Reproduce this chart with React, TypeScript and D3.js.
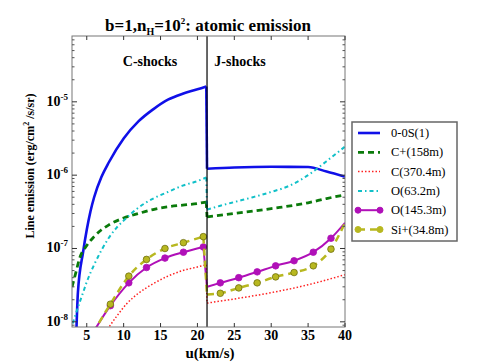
import React from 'react';
import * as d3 from 'd3';

// velocity (km/s) and line emission (erg/cm2/s/sr), C-shock and J-shock branches
const h2C = [[3.6, 7.9e-9], [3.8, 2.5e-8], [4.5, 8.9e-8], [5, 1.8e-7], [5.5, 3.2e-7], [6, 5.0e-7], [7, 9.5e-7], [8, 1.5e-6], [10, 3.16e-6], [12, 5.4e-6], [14, 7.9e-6], [16, 1.07e-5], [18, 1.29e-5], [20, 1.48e-5], [21.2, 1.62e-5]];
const h2J = [[21.3, 1.22e-6], [25, 1.27e-6], [30, 1.3e-6], [35, 1.29e-6], [37.5, 1.12e-6], [40, 9.5e-7]];

const cpC = [[3, 3.0e-8], [3.5, 4.6e-8], [4, 7.2e-8], [5, 1.1e-7], [6, 1.45e-7], [7, 1.8e-7], [8, 2.1e-7], [10, 2.6e-7], [12, 3.0e-7], [14, 3.4e-7], [16, 3.7e-7], [18, 3.9e-7], [20, 4.1e-7], [21.2, 4.3e-7]];
const cpJ = [[21.3, 2.7e-7], [25, 3.0e-7], [30, 3.5e-7], [35, 4.2e-7], [37.5, 4.8e-7], [40, 5.4e-7]];

const ciC = [[7.8, 7.9e-9], [9, 1.17e-8], [10.5, 1.8e-8], [12, 2.45e-8], [14, 3.3e-8], [16, 4.2e-8], [18, 5.0e-8], [20, 5.6e-8], [21.2, 6.0e-8]];
const ciJ = [[21.3, 1.8e-8], [25, 2.05e-8], [30, 2.5e-8], [35, 3.2e-8], [40, 4.4e-8]];

const o63C = [[3.1, 9.5e-9], [4, 1.8e-8], [4.5, 2.5e-8], [5, 3.5e-8], [6, 6.0e-8], [7, 9.5e-8], [8, 1.4e-7], [9, 1.9e-7], [10, 2.4e-7], [12, 3.6e-7], [14, 4.8e-7], [16, 5.9e-7], [18, 7.2e-7], [20, 8.3e-7], [21.2, 9.3e-7]];
const o63J = [[21.3, 3.4e-7], [23, 3.8e-7], [25, 4.3e-7], [27.5, 5.0e-7], [30, 5.9e-7], [32.5, 7.2e-7], [35, 1.0e-6], [37.5, 1.55e-6], [40, 2.45e-6]];

const o145C = [[5.8, 7e-9], [8.2, 1.66e-8], [10.7, 3.4e-8], [13.1, 5.5e-8], [15.6, 7.4e-8], [18.1, 8.9e-8], [20.8, 1.05e-7]];
const o145J = [[21.3, 3.0e-8], [23.1, 3.4e-8], [25.6, 4.0e-8], [28.1, 4.8e-8], [30.6, 5.8e-8], [33.1, 6.8e-8], [35.7, 8.9e-8], [38.1, 1.38e-7], [40, 2.24e-7]];

const siC = [[5.8, 7e-9], [8.2, 1.74e-8], [10.7, 4.2e-8], [13.1, 7.1e-8], [15.6, 1.0e-7], [18.1, 1.2e-7], [20.8, 1.45e-7]];
const siJ = [[21.3, 2.35e-8], [23.1, 2.45e-8], [25.6, 2.9e-8], [28.1, 3.4e-8], [30.6, 4.1e-8], [33.1, 4.7e-8], [35.7, 5.8e-8], [38.1, 9.8e-8], [40, 2.24e-7]];

const xTicks = [5, 10, 15, 20, 25, 30, 35, 40];
const yTicks = [1e-8, 1e-7, 1e-6, 1e-5];
const yExps = ['-8', '-7', '-6', '-5'];
const shockSplit = 21.3;

const series = [
  { name: '0-0S(1)', c: h2C, j: h2J, color: '#1010e8', width: 2.6, dash: null, marker: false },
  { name: 'C+(158m)', c: cpC, j: cpJ, color: '#0a7a0a', width: 2.8, dash: '6,4', marker: false },
  { name: 'C(370.4m)', c: ciC, j: ciJ, color: '#ff2020', width: 1.5, dash: '1.5,2', marker: false },
  { name: 'O(63.2m)', c: o63C, j: o63J, color: '#10c0c8', width: 2, dash: '4,3,1.5,3', marker: false },
  { name: 'O(145.3m)', c: o145C, j: o145J, color: '#b010b8', width: 2, dash: null, marker: true },
  { name: 'Si+(34.8m)', c: siC, j: siJ, color: '#b8b820', width: 2.5, dash: '7,5', marker: true },
];

const serif = { fontFamily: "'Liberation Serif', 'Times New Roman', serif" };

export default function App() {
  const left = 72, right = 345, top = 36, bottom = 327;
  const x = d3.scaleLinear().domain([3, 40]).range([left, right]);
  const y = d3.scaleLog().domain([8.5e-9, 7.9e-5]).range([bottom, top]);
  const line = d3.line<number[]>().x(d => x(d[0])).y(d => y(d[1])).curve(d3.curveMonotoneX);

  const minor: number[] = [];
  [1e-9, 1e-8, 1e-7, 1e-6, 1e-5].forEach(dec => {
    for (let k = 2; k <= 9; k++) {
      const v = k * dec;
      if (v > 8.5e-9 && v < 7.9e-5) minor.push(v);
    }
  });

  const legX = 352, legY = 122, legRow = 19.3;

  return (
    <svg width={480} height={363} style={{ position: 'absolute', left: 0, top: 0, background: '#fff' }}>
      <defs>
        <clipPath id="plot">
          <rect x={left} y={top} width={right - left} height={bottom - top} />
        </clipPath>
      </defs>

      <text x={208} y={31} textAnchor="middle" style={serif} fontWeight="bold" fontSize={17}>
        b=1,n<tspan fontSize={10} dy={4}>H</tspan><tspan dy={-4}>=10</tspan><tspan fontSize={9} dy={-7}>2</tspan><tspan dy={7}>: atomic emission</tspan>
      </text>

      <g clipPath="url(#plot)">
        {series.map(s => {
          const pts = s.c.concat(s.j);
          return (
            <g key={s.name}>
              <path d={line(s.c) || ''} fill="none" stroke={s.color} strokeWidth={s.width} strokeDasharray={s.dash || undefined} />
              <path d={line([s.c[s.c.length - 1], s.j[0]]) || ''} fill="none" stroke={s.color} strokeWidth={s.width} strokeDasharray={s.dash || undefined} />
              <path d={line(s.j) || ''} fill="none" stroke={s.color} strokeWidth={s.width} strokeDasharray={s.dash || undefined} />
              {s.marker && pts.filter(d => d !== s.j[0] && d[0] < 40).map((d, i) => (
                <circle key={i} cx={x(d[0])} cy={y(d[1])} r={3.3} fill={s.color} stroke={s.name.startsWith('Si') ? '#707010' : s.color} strokeWidth={0.8} />
              ))}
            </g>
          );
        })}
      </g>

      <line x1={x(shockSplit)} x2={x(shockSplit)} y1={top} y2={bottom} stroke="#000" strokeWidth={1.2} />
      <text x={150} y={66} textAnchor="middle" style={serif} fontWeight="bold" fontSize={14}>C-shocks</text>
      <text x={240} y={66} textAnchor="middle" style={serif} fontWeight="bold" fontSize={14}>J-shocks</text>

      <rect x={left} y={top} width={right - left} height={bottom - top} fill="none" stroke="#777" strokeWidth={1} />

      {xTicks.map(t => (
        <g key={t}>
          <line x1={x(t)} x2={x(t)} y1={bottom} y2={bottom - 4} stroke="#333" />
          <line x1={x(t)} x2={x(t)} y1={top} y2={top + 4} stroke="#333" />
          <text x={x(t)} y={bottom + 13} textAnchor="middle" style={serif} fontWeight="bold" fontSize={14}>{t}</text>
        </g>
      ))}

      {minor.map((t, i) => (
        <g key={i}>
          <line x1={left} x2={left + 2.5} y1={y(t)} y2={y(t)} stroke="#555" />
          <line x1={right} x2={right - 2.5} y1={y(t)} y2={y(t)} stroke="#555" />
        </g>
      ))}
      {yTicks.map((t, i) => (
        <g key={t}>
          <line x1={left} x2={left + 5} y1={y(t)} y2={y(t)} stroke="#333" />
          <line x1={right} x2={right - 5} y1={y(t)} y2={y(t)} stroke="#333" />
          <text x={left - 4} y={y(t) + 4} textAnchor="end" style={serif} fontWeight="bold" fontSize={14}>
            10<tspan fontSize={9} dy={-6}>{yExps[i]}</tspan>
          </text>
        </g>
      ))}

      <text x={210} y={358} textAnchor="middle" style={serif} fontWeight="bold" fontSize={15}>u(km/s)</text>
      <text transform="translate(34,166) rotate(-90)" textAnchor="middle" style={serif} fontWeight="bold" fontSize={12}>
        Line emission (erg/cm<tspan fontSize={8} dy={-5}>2</tspan><tspan dy={5}> /s/sr)</tspan>
      </text>

      <rect x={legX} y={legY} width={105} height={119} fill="#fff" stroke="#666" strokeWidth={1.5} />
      {series.map((s, i) => {
        const ly = legY + 11 + i * legRow;
        return (
          <g key={s.name}>
            <line x1={legX + 6} x2={legX + 28} y1={ly} y2={ly} stroke={s.color} strokeWidth={s.width} strokeDasharray={s.dash || undefined} />
            {s.marker && [legX + 6, legX + 28].map(cx => (
              <circle key={cx} cx={cx} cy={ly} r={3} fill={s.color} stroke={s.color} />
            ))}
            <text x={legX + 39} y={ly + 4} style={serif} fontSize={12.5}>{s.name}</text>
          </g>
        );
      })}
    </svg>
  );
}
